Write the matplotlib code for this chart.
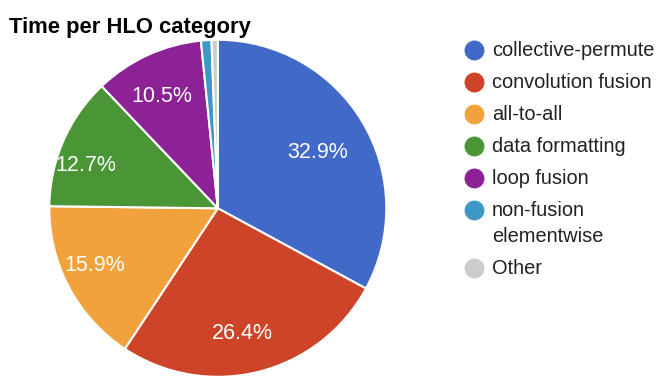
import matplotlib
matplotlib.use("Agg")
import numpy as np
import matplotlib.pyplot as plt

plt.rcParams['font.family'] = ['Liberation Sans', 'DejaVu Sans']

# data
categories = ["collective-permute", "convolution fusion", "all-to-all",
              "data formatting", "loop fusion", "non-fusion\nelementwise", "Other"]
shares = [32.9, 26.4, 15.9, 12.7, 10.5, 1.0, 0.6]
colors = ["#4169c7", "#cd4428", "#f2a23c", "#4a9535", "#8d2196", "#3e98c6", "#cccccc"]

W, H = 668, 390
fig = plt.figure(figsize=(W / 100, H / 100), dpi=100)

# pie: center ~ (218, 208), radius ~168 px
cx, cy, r = 217.8, 208.3, 168.5
ax = fig.add_axes([(cx - r) / W, (H - cy - r) / H, 2 * r / W, 2 * r / H])
wedges, texts, autotexts = ax.pie(
    shares, colors=colors, startangle=90, counterclock=False,
    autopct=lambda p: f"{p:.1f}%" if p > 5 else "",
    wedgeprops=dict(edgecolor="white", linewidth=1.5),
    textprops=dict(color="white", fontsize=15.5),
)
ax.set_xlim(-1, 1)
ax.set_ylim(-1, 1)
ax.set_aspect("equal")

# google charts nudges the % labels around a bit
label_dist = [0.68, 0.755, 0.805, 0.825, 0.745, 0.8, 0.8]
label_turn = [-1.6, -3.0, -3.0, 5.6, 1.9, 0, 0]
for w, t, d, turn in zip(wedges, autotexts, label_dist, label_turn):
    mid = np.deg2rad((w.theta1 + w.theta2) / 2 + turn)
    t.set_position((d * np.cos(mid), d * np.sin(mid)))

# overlay in pixel coords for title + legend
ov = fig.add_axes([0, 0, 1, 1])
ov.set_xlim(0, W)
ov.set_ylim(H, 0)
ov.axis("off")

ov.text(9, 33, "Time per HLO category", fontsize=15.8, fontweight="bold",
        va="baseline", ha="left", color="black")

y = 50
for name, c in zip(categories, colors):
    ov.scatter([474], [y], s=205, color=c, linewidths=0)
    lines = name.split("\n")
    for i, ln in enumerate(lines):
        ov.text(492, y + i * 26, ln, fontsize=14.4, va="center", ha="left",
                color="#222222")
    y += 32 + (len(lines) - 1) * 26

fig.savefig("out.png", dpi=100)
